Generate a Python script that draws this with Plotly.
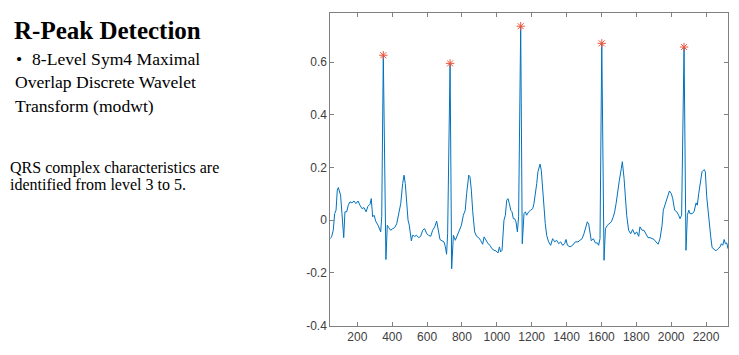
import plotly.graph_objects as go

# ECG signal samples (sample index, amplitude)
sig_x = [45, 53, 62, 70, 78, 85, 91, 97, 104, 112, 122, 129, 139, 148, 158, 169, 181, 192, 204, 215,
         227, 238, 250, 261, 273, 280, 288, 296, 307, 319, 326, 334, 340, 349, 364, 372, 380, 391, 403, 414,
         426, 437, 449, 460, 468, 475, 483, 491, 498, 510, 517, 529, 540, 552, 563, 575, 586, 598, 609, 621,
         632, 644, 655, 663, 674, 686, 697, 705, 712, 718, 732, 741, 751, 762, 774, 785, 797, 808, 819, 827,
         839, 846, 854, 862, 873, 884, 896, 907, 919, 927, 938, 950, 961, 972, 984, 995, 1007, 1015, 1022, 1030,
         1041, 1049, 1057, 1064, 1072, 1080, 1087, 1095, 1102, 1110, 1118, 1125, 1137, 1146, 1156, 1164, 1171, 1183, 1194, 1206,
         1213, 1221, 1229, 1236, 1248, 1255, 1263, 1271, 1278, 1286, 1297, 1309, 1320, 1332, 1343, 1355, 1366, 1378, 1389, 1397,
         1405, 1420, 1435, 1450, 1466, 1477, 1489, 1500, 1512, 1519, 1527, 1535, 1542, 1554, 1565, 1577, 1584, 1592, 1602, 1615,
         1623, 1634, 1646, 1657, 1668, 1676, 1684, 1691, 1703, 1714, 1720, 1730, 1737, 1745, 1756, 1768, 1779, 1791, 1802, 1814,
         1821, 1833, 1844, 1856, 1867, 1879, 1890, 1902, 1913, 1925, 1936, 1948, 1955, 1967, 1978, 1990, 2001, 2009, 2020, 2032,
         2043, 2051, 2060, 2074, 2085, 2093, 2101, 2108, 2120, 2131, 2143, 2150, 2158, 2166, 2177, 2189, 2196, 2204, 2216, 2227,
         2235, 2246, 2257, 2269, 2281, 2288, 2296, 2304, 2311, 2319, 2326]
sig_y = [-0.070, -0.061, -0.038, 0.025, 0.038, 0.114, 0.124, 0.108, 0.095, 0.025, -0.066, 0.032, 0.032, 0.057, 0.070, 0.066, 0.073, 0.063, 0.073, 0.057,
         0.044, 0.048, 0.032, 0.053, 0.061, 0.082, 0.013, 0.019, -0.006, -0.019, -0.028, -0.044, 0.013, 0.626, -0.149, -0.019, -0.028, -0.038, -0.032, -0.028,
         -0.013, 0.019, 0.063, 0.139, 0.171, 0.139, 0.076, 0.000, -0.019, -0.078, -0.057, -0.061, -0.057, -0.066, -0.061, -0.038, -0.032, -0.051, -0.057, -0.061,
         -0.038, -0.025, -0.003, -0.035, -0.073, -0.078, -0.082, -0.101, -0.129, -0.051, 0.595, -0.184, -0.057, -0.076, -0.057, -0.038, -0.019, 0.019, 0.038, 0.101,
         0.171, 0.165, 0.114, 0.032, -0.044, -0.061, -0.066, -0.076, -0.091, -0.063, -0.076, -0.089, -0.095, -0.108, -0.114, -0.116, -0.124, -0.101, -0.120, -0.114,
         0.000, 0.019, 0.076, 0.082, 0.063, 0.038, 0.032, 0.006, 0.006, -0.006, -0.044, 0.013, 0.736, -0.089, 0.025, 0.032, 0.019, 0.032, 0.038, 0.044,
         0.063, 0.095, 0.139, 0.184, 0.213, 0.190, 0.114, 0.038, -0.013, -0.057, -0.082, -0.095, -0.070, -0.082, -0.076, -0.089, -0.082, -0.095, -0.089, -0.073,
         -0.095, -0.101, -0.095, -0.082, -0.082, -0.076, -0.070, -0.051, -0.015, -0.006, -0.015, -0.051, -0.078, -0.070, -0.086, -0.086, -0.095, -0.070, 0.671, -0.152,
         -0.032, -0.019, -0.013, -0.006, 0.013, 0.032, 0.063, 0.101, 0.152, 0.196, 0.222, 0.158, 0.095, 0.019, -0.038, -0.051, -0.035, -0.053, -0.044, -0.061,
         -0.025, -0.038, -0.038, -0.051, -0.066, -0.066, -0.070, -0.073, -0.082, -0.091, -0.070, -0.019, 0.038, 0.063, 0.095, 0.111, 0.101, 0.082, 0.038, 0.032,
         0.019, 0.006, 0.019, 0.657, -0.114, 0.019, 0.038, 0.025, 0.025, 0.032, 0.066, 0.057, 0.101, 0.139, 0.184, 0.192, 0.184, 0.089, 0.000, -0.063,
         -0.104, -0.111, -0.116, -0.108, -0.101, -0.089, -0.095, -0.073, -0.089, -0.086, -0.108]

# Detected R peaks
peak_x = [349, 732, 1137, 1602, 2074]
peak_y = [0.626, 0.595, 0.736, 0.671, 0.657]

x_ticks = [200, 400, 600, 800, 1000, 1200, 1400, 1600, 1800, 2000, 2200]
y_ticks = [-0.4, -0.2, 0, 0.2, 0.4, 0.6]
y_tick_text = ["-0.4", "-0.2", "0", "0.2", "0.4", "0.6"]

# page has an 8px body margin: figure is offset by OFF in the window
OFF = 8
W, H = 739 - OFF, 355 - OFF

def fx(px):
    return (px - OFF) / W

def fy(py):
    return 1 - (py - OFF) / H

fig = go.Figure()
fig.add_trace(go.Scatter(x=sig_x, y=sig_y, mode="lines",
                         line=dict(color="#0072BD", width=1), showlegend=False))
fig.add_trace(go.Scatter(x=peak_x, y=peak_y, mode="markers",
                         marker=dict(symbol="asterisk-open", size=7,
                                     line=dict(color="#D95319", width=1)),
                         showlegend=False))

axis_common = dict(showline=True, linecolor="#808080", linewidth=1, mirror="ticks",
                   ticks="inside", ticklen=4, tickcolor="#808080", showgrid=False,
                   zeroline=False, automargin=False,
                   tickfont=dict(family="Liberation Sans, Arial", size=12, color="#404040"))

fig.update_layout(
    width=W, height=H,
    margin=dict(l=0, r=0, t=0, b=0, autoexpand=False),
    paper_bgcolor="white", plot_bgcolor="white",
    xaxis=dict(range=[45, 2326], tickvals=x_ticks, domain=[fx(330.3), fx(728)], **axis_common),
    yaxis=dict(range=[-0.4, 0.785], tickvals=y_ticks, ticktext=y_tick_text,
               domain=[fy(325.7), fy(13.3)], **axis_common),
)

serif = "Liberation Serif, Times New Roman, serif"

def add_text(txt, px, py, size, bold=False):
    fig.add_annotation(text=("<b>%s</b>" % txt) if bold else txt,
                       xref="paper", yref="paper", x=fx(px), y=fy(py),
                       xanchor="left", yanchor="middle", showarrow=False,
                       font=dict(family=serif, size=size, color="black"))

add_text("R-Peak Detection", 12, 30, 25, bold=True)
add_text("•", 14, 59, 17.6)
add_text("8-Level Sym4 Maximal", 30, 59, 17.6)
add_text("Overlap Discrete Wavelet", 13, 82, 17.6)
add_text("Transform (modwt)", 13, 106, 17.6)
add_text("QRS complex characteristics are", 8, 168, 16)
add_text("identified from level 3 to 5.", 8, 185, 16)

fig.write_html("out.html")
